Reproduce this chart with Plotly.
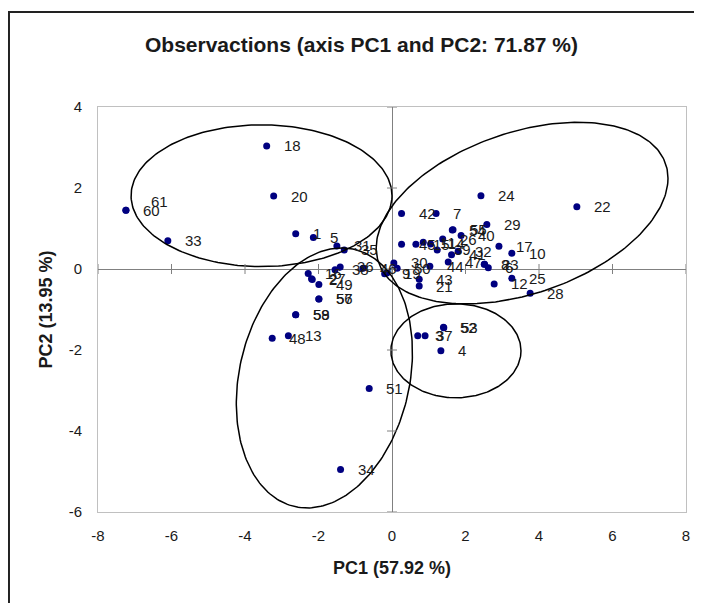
import numpy as np
import plotly.graph_objects as go

# ---- data ----
obs_labels = ["18", "20", "60", "61", "33", "1", "5", "31", "35",
              "16", "27", "2", "49", "38", "36", "46", "9", "19", "30", "50",
              "56", "57", "58", "59", "48", "13", "51", "34",
              "42", "7", "24", "22", "54", "55", "40", "29", "26", "45", "15", "11", "14",
              "39", "32", "41", "47", "44", "43", "21", "17", "10", "8", "23", "6",
              "25", "12", "28", "52", "53", "3", "37", "4"]
pc1 = [-3.41, -3.22, -7.24, -7.24, -6.10, -2.62, -2.14, -1.50, -1.30,
       -2.28, -2.19, -2.17, -1.99, -1.55, -1.41, -0.79, -0.20, -0.14, 0.05, 0.14,
       -1.99, -1.99, -2.62, -2.62, -3.26, -2.82, -0.62, -1.40,
       0.26, 1.20, 2.42, 5.03, 1.64, 1.66, 1.88, 2.58, 1.38, 0.26, 0.65, 0.85, 1.05,
       1.23, 1.80, 1.62, 1.53, 1.03, 0.74, 0.74, 2.91, 3.26, 2.51, 2.52, 2.62,
       3.26, 2.78, 3.76, 1.40, 1.41, 0.70, 0.90, 1.33]
pc2 = [3.04, 1.80, 1.45, 1.45, 0.70, 0.87, 0.78, 0.57, 0.47,
       -0.11, -0.24, -0.26, -0.38, -0.02, 0.05, 0.02, -0.12, -0.10, 0.15, 0.02,
       -0.74, -0.74, -1.13, -1.13, -1.71, -1.65, -2.95, -4.95,
       1.37, 1.37, 1.81, 1.54, 0.96, 0.97, 0.83, 1.10, 0.74, 0.61, 0.61, 0.66, 0.62,
       0.47, 0.44, 0.35, 0.17, 0.07, -0.25, -0.42, 0.56, 0.39, 0.12, 0.12, 0.03,
       -0.23, -0.37, -0.60, -1.44, -1.45, -1.65, -1.65, -2.02]

x_ticks = [-8, -6, -4, -2, 0, 2, 4, 6, 8]
x_tick_text = ["-8", "-6", "-4", "-2", "0", "2", "4", "6", "8"]
y_ticks = [-6, -4, -2, 0, 2, 4]
y_tick_text = ["-6", "-4", "-2", "0", "2", "4"]

# ellipses: centre and two conjugate semi-diameters (data units)
ell_center = [(-3.55, 1.81), (3.54, 1.38), (-1.84, -2.69), (1.74, -2.02)]
ell_u = [(3.55, 0.0), (3.97, 0.86), (2.35, 0.0), (1.77, 0.0)]
ell_v = [(0.0, 1.75), (0.0, 2.07), (0.47, 3.21), (0.0, 1.16)]

# label offset tweaks (style only)
label_shift = {"61": (8, 9), "37": (-6, 0)}

fig = go.Figure()

fig.add_trace(go.Scatter(
    x=pc1, y=pc2, mode="markers",
    marker=dict(color="#000080", size=7),
    hoverinfo="text", text=obs_labels, showlegend=False, cliponaxis=False))

t = np.linspace(0, 2 * np.pi, 241)
for (cx, cy), (ux, uy), (vx, vy) in zip(ell_center, ell_u, ell_v):
    ex = cx + ux * np.cos(t) + vx * np.sin(t)
    ey = cy + uy * np.cos(t) + vy * np.sin(t)
    fig.add_trace(go.Scatter(x=ex, y=ey, mode="lines",
                             line=dict(color="black", width=1.5),
                             hoverinfo="skip", showlegend=False, cliponaxis=False))

for lab, xv, yv in zip(obs_labels, pc1, pc2):
    dx, dy = label_shift.get(lab, (0, 0))
    fig.add_annotation(x=xv, y=yv, text=lab, showarrow=False,
                       xanchor="left", yanchor="middle", xshift=15 + dx, yshift=dy,
                       font=dict(family="Liberation Sans, Arial", size=15, color="#1a1a1a"))

# axis titles
fig.add_annotation(xref="paper", yref="paper", x=0.5, y=-0.138,
                   text="<b>PC1 (57.92 %)</b>", showarrow=False,
                   xanchor="center", yanchor="middle",
                   font=dict(family="Liberation Sans, Arial", size=18, color="#1a1a1a"))
fig.add_annotation(xref="paper", yref="paper", x=-0.0901, y=0.5,
                   text="<b>PC2 (13.95 %)</b>", showarrow=False, textangle=-90,
                   xanchor="center", yanchor="middle",
                   font=dict(family="Liberation Sans, Arial", size=18, color="#1a1a1a"))

shapes = []
for xv in x_ticks:
    shapes.append(dict(type="line", xref="x", yref="y", x0=xv, x1=xv,
                       ysizemode="pixel", yanchor=0, y0=-5, y1=5,
                       line=dict(color="#808080", width=1)))
for yv in y_ticks:
    shapes.append(dict(type="line", xref="x", yref="y", y0=yv, y1=yv,
                       xsizemode="pixel", xanchor=0, x0=-5, x1=5,
                       line=dict(color="#808080", width=1)))
# outer chart frame
shapes.append(dict(type="rect", xref="paper", yref="paper",
                   x0=-0.1514, x1=1.06, y0=-0.26, y1=1.2346,
                   line=dict(color="#222222", width=2), layer="below"))
fig.update_layout(shapes=shapes)

fig.update_layout(
    width=694, height=595,
    margin=dict(l=90, r=16, t=99, b=91),
    paper_bgcolor="white", plot_bgcolor="white",
    font=dict(family="Liberation Sans, Arial", size=15, color="#1a1a1a"),
    title=dict(text="<b>Observactions (axis PC1 and PC2: 71.87 %)</b>",
               x=353.5 / 694, xref="container", xanchor="center",
               y=1 - 37 / 595, yref="container", yanchor="middle",
               font=dict(size=21, color="#1a1a1a")),
    xaxis=dict(range=[-8, 8], tickvals=x_ticks, ticktext=x_tick_text, showgrid=False,
               zeroline=True, zerolinecolor="#808080", zerolinewidth=1,
               showline=True, mirror=True, linecolor="#c0c0c0", linewidth=1,
               ticks="outside", ticklen=10, tickcolor="rgba(0,0,0,0)"),
    yaxis=dict(range=[-6, 4], tickvals=y_ticks, ticktext=y_tick_text, showgrid=False,
               zeroline=True, zerolinecolor="#808080", zerolinewidth=1,
               showline=True, mirror=True, linecolor="#c0c0c0", linewidth=1,
               ticks="outside", ticklen=12, tickcolor="rgba(0,0,0,0)"),
)

fig.write_html("out.html")
